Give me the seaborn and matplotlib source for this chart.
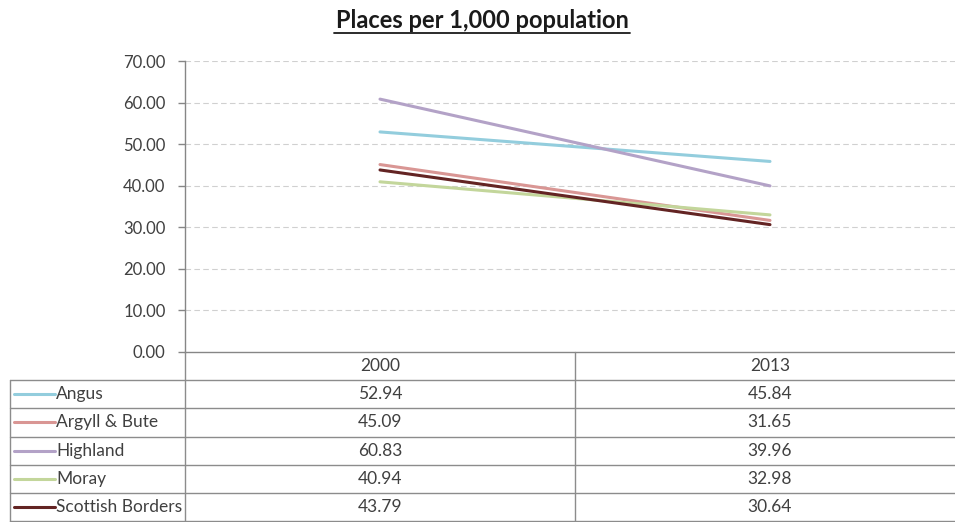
import matplotlib
matplotlib.use("Agg")
import matplotlib.pyplot as plt
from matplotlib.lines import Line2D
import seaborn as sns
import pandas as pd

years = ["2000", "2013"]
regions = ["Angus", "Argyll & Bute", "Highland", "Moray", "Scottish Borders"]
values_2000 = [52.94, 45.09, 60.83, 40.94, 43.79]
values_2013 = [45.84, 31.65, 39.96, 32.98, 30.64]
colors = ["#93CDDD", "#D99694", "#B3A2C7", "#C3D69B", "#632423"]
yticks = [0, 10, 20, 30, 40, 50, 60, 70]

rows = []
for r, a, b in zip(regions, values_2000, values_2013):
    rows.append({"Year": years[0], "Region": r, "Value": a})
    rows.append({"Year": years[1], "Region": r, "Value": b})
df = pd.DataFrame(rows)

sns.set_theme(style="white")
plt.rcParams["font.family"] = ["Lato", "DejaVu Sans"]

W, H = 955, 522
fig = plt.figure(figsize=(W / 100, H / 100), dpi=100)

def fx(px):
    return px / W

def fy(py):
    return 1 - py / H

ax_left, ax_right, ax_top, ax_bottom = 185, 965, 61, 352
ax = fig.add_axes([fx(ax_left), fy(ax_bottom), fx(ax_right - ax_left), (ax_bottom - ax_top) / H])

sns.lineplot(data=df, x="Year", y="Value", hue="Region", palette=dict(zip(regions, colors)),
             linewidth=2.2, legend=False, ax=ax, sort=False)

ax.set_xlim(-0.5, 1.5)
ax.set_ylim(0, 70)
ax.set_yticks(yticks)
ax.set_yticklabels([f"{v:.2f}" for v in yticks], fontsize=12, color="#404040")
ax.set_xticks([])
ax.set_xlabel("")
ax.set_ylabel("")
for v in yticks[1:]:
    ax.axhline(v, color="#D0D0D0", linewidth=0.8, linestyle=(0, (5, 3)), zorder=0)
for s in ["top", "right"]:
    ax.spines[s].set_visible(False)
ax.spines["left"].set_color("#868686")
ax.spines["bottom"].set_color("#868686")
ax.spines["left"].set_linewidth(1.0)
ax.spines["bottom"].set_linewidth(1.0)
ax.tick_params(axis="y", length=5, width=1, color="#868686", pad=9, left=True)

# title
fig.text(fx(482), fy(20), "Places per 1,000 population", ha="center", va="center",
         fontsize=17, fontweight="bold", color="#1A1A1A")
fig.add_artist(Line2D([fx(334), fx(630)], [fy(33), fy(33)], color="#1A1A1A", linewidth=1.3))

# data table
gc = "#8C8C8C"
row_lines = [380, 408, 437, 465, 493, 521]
for i, yl in enumerate(row_lines):
    fig.add_artist(Line2D([fx(10), fx(955)], [fy(yl), fy(yl)], color=gc, linewidth=1.0))
fig.add_artist(Line2D([fx(10), fx(10)], [fy(380), fy(522)], color=gc, linewidth=1.0))
fig.add_artist(Line2D([fx(185), fx(185)], [fy(352), fy(522)], color=gc, linewidth=1.0))
fig.add_artist(Line2D([fx(575), fx(575)], [fy(352), fy(522)], color=gc, linewidth=1.0))

tc = "#404040"
fs = 12.5
fig.text(fx(380), fy(366), years[0], ha="center", va="center", fontsize=fs, color=tc)
fig.text(fx(770), fy(366), years[1], ha="center", va="center", fontsize=fs, color=tc)
row_centers = [394, 422, 451, 479, 507]
for r, c, a, b, yc in zip(regions, colors, values_2000, values_2013, row_centers):
    fig.add_artist(Line2D([fx(14), fx(55)], [fy(yc), fy(yc)], color=c, linewidth=2.2))
    fig.text(fx(56), fy(yc), r, ha="left", va="center", fontsize=fs, color=tc)
    fig.text(fx(380), fy(yc), f"{a:.2f}", ha="center", va="center", fontsize=fs, color=tc)
    fig.text(fx(770), fy(yc), f"{b:.2f}", ha="center", va="center", fontsize=fs, color=tc)

fig.savefig("out.png", dpi=100, facecolor="white")
